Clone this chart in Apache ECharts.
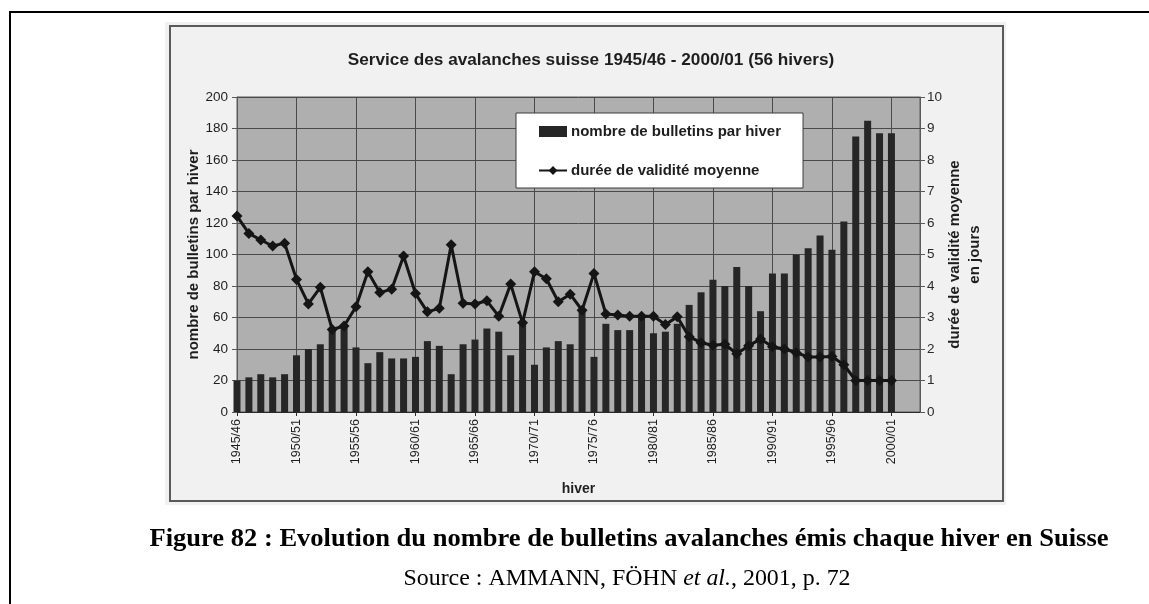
<!DOCTYPE html>
<html>
<head>
<meta charset="utf-8">
<script src="https://cdn.jsdelivr.net/npm/echarts@6/dist/echarts.min.js"></script>
<style>
  html, body { margin: 0; padding: 0; background: #ffffff; }
  #chart { width: 1149px; height: 604px; }
</style>
</head>
<body>
<div id="chart"></div>
<script>
// Winters 1945/46 to 2000/01
const winters = [
  '1945/46','1946/47','1947/48','1948/49','1949/50','1950/51','1951/52','1952/53','1953/54','1954/55',
  '1955/56','1956/57','1957/58','1958/59','1959/60','1960/61','1961/62','1962/63','1963/64','1964/65',
  '1965/66','1966/67','1967/68','1968/69','1969/70','1970/71','1971/72','1972/73','1973/74','1974/75',
  '1975/76','1976/77','1977/78','1978/79','1979/80','1980/81','1981/82','1982/83','1983/84','1984/85',
  '1985/86','1986/87','1987/88','1988/89','1989/90','1990/91','1991/92','1992/93','1993/94','1994/95',
  '1995/96','1996/97','1997/98','1998/99','1999/00','2000/01'
];

// Number of bulletins issued per winter (left axis)
const bulletins = [
  20, 22, 24, 22, 24, 36, 40, 43, 52, 55,
  41, 31, 38, 34, 34, 35, 45, 42, 24, 43,
  46, 53, 51, 36, 57, 30, 41, 45, 43, 65,
  35, 56, 52, 52, 60, 50, 51, 56, 68, 76,
  84, 80, 92, 80, 64, 88, 88, 100, 104, 112,
  103, 121, 175, 185, 177, 177
];

// Mean validity in days (right axis)
const validity = [
  6.22, 5.67, 5.46, 5.27, 5.36, 4.21, 3.43, 3.96, 2.62, 2.73,
  3.34, 4.45, 3.79, 3.90, 4.95, 3.76, 3.18, 3.29, 5.31, 3.45,
  3.43, 3.53, 3.04, 4.06, 2.83, 4.45, 4.23, 3.50, 3.74, 3.23,
  4.40, 3.11, 3.08, 3.04, 3.04, 3.04, 2.78, 3.02, 2.39, 2.20,
  2.12, 2.15, 1.85, 2.10, 2.32, 2.07, 2.00, 1.88, 1.75, 1.75,
  1.76, 1.50, 1.00, 1.00, 1.00, 1.00
];

// Tick labels
const leftTicks = [0, 20, 40, 60, 80, 100, 120, 140, 160, 180, 200];
const rightTicks = [0, 1, 2, 3, 4, 5, 6, 7, 8, 9, 10];
const labelledWinters = winters.map((w, i) => i).filter(i => i % 5 === 0);

const chart = echarts.init(document.getElementById('chart'), null, { renderer: 'canvas' });

const sans = '"Liberation Sans", Arial, sans-serif';
const serif = '"Liberation Serif", "Times New Roman", serif';
const ink = '#1e1e1e';

chart.setOption({
  animation: false,
  backgroundColor: '#ffffff',
  textStyle: { fontFamily: sans },
  title: {
    text: 'Service des avalanches suisse 1945/46 - 2000/01 (56 hivers)',
    left: 586, top: 47, textAlign: 'center',
    textStyle: { fontFamily: sans, fontWeight: 'bold', fontSize: 17.2, color: ink }
  },
  graphic: [
    { type: 'rect', z: -100, silent: true,
      shape: { x: 10, y: 12, width: 1300, height: 700 },
      style: { fill: '#ffffff', stroke: '#000000', lineWidth: 2 } },
    { type: 'rect', z: -99, silent: true,
      shape: { x: 165, y: 22, width: 841, height: 483 },
      style: { fill: '#f1f1f1' } },
    { type: 'rect', z: -98, silent: true,
      shape: { x: 170, y: 26, width: 833, height: 475 },
      style: { fill: 'none', stroke: '#5a5a5a', lineWidth: 2 } },
    { type: 'text', silent: true, x: 629, y: 539, scaleX: 1.02,
      style: { text: 'Figure 82 : Evolution du nombre de bulletins avalanches émis chaque hiver en Suisse',
        font: 'bold 26px ' + serif, fill: '#000000', align: 'center', verticalAlign: 'middle' } },
    { type: 'text', silent: true, x: 627, y: 579, scaleX: 1.04,
      style: { text: '{n|Source : AMMANN, FÖHN }{i|et al.}{n|, 2001, p. 72}',
        align: 'center', verticalAlign: 'middle',
        rich: {
          n: { fontFamily: serif, fontSize: 23, color: '#000000' },
          i: { fontFamily: serif, fontSize: 23, fontStyle: 'italic', color: '#000000' }
        } } }
  ],
  legend: {
    orient: 'vertical',
    left: 516, top: 113,
    backgroundColor: '#ffffff',
    borderColor: '#3a3a3a', borderWidth: 1,
    padding: [11, 22, 10, 22],
    itemGap: 24,
    itemWidth: 28, itemHeight: 11,
    textStyle: { fontFamily: sans, fontWeight: 'bold', fontSize: 15, color: ink, padding: [0, 0, 0, -1] },
    data: [
      { name: 'nombre de bulletins par hiver', icon: 'rect' },
      { name: 'durée de validité moyenne' }
    ]
  },
  grid: {
    left: 237, right: 229, top: 97, bottom: 192,
    show: true, backgroundColor: '#afafaf',
    borderColor: '#5a5a5a', borderWidth: 1
  },
  xAxis: {
    type: 'value',
    min: 0, max: 57.4, interval: 5,
    name: 'hiver', nameLocation: 'middle', nameGap: 70,
    nameTextStyle: { fontFamily: sans, fontWeight: 'bold', fontSize: 14, color: ink },
    axisLine: { show: true, lineStyle: { color: '#2a2a2a', width: 1 } },
    axisTick: { show: true, length: 4, customValues: labelledWinters, lineStyle: { color: '#2a2a2a' } },
    axisLabel: {
      customValues: labelledWinters,
      rotate: 90, margin: 7,
      fontFamily: sans, fontSize: 12.5, color: ink,
      formatter: v => winters[v] || ''
    },
    splitLine: { show: true, lineStyle: { color: '#4a4a4a', width: 1 } }
  },
  yAxis: [
    {
      type: 'value', min: 0, max: 200, interval: 20, position: 'left',
      name: 'nombre de bulletins par hiver', nameLocation: 'middle',
      nameGap: 36, nameMoveOverlap: false,
      nameTextStyle: { fontFamily: sans, fontWeight: 'bold', fontSize: 15, color: ink },
      axisLine: { show: true, lineStyle: { color: '#5a5a5a' } },
      axisTick: { show: true, length: 5, inside: false, lineStyle: { color: '#5a5a5a' } },
      axisLabel: { margin: 9, fontFamily: sans, fontSize: 13.5, color: ink,
        customValues: leftTicks },
      splitLine: { show: true, lineStyle: { color: '#4a4a4a', width: 1 } }
    },
    {
      type: 'value', min: 0, max: 10, interval: 1, position: 'right',
      name: 'durée de validité moyenne\nen jours', nameLocation: 'middle',
      nameGap: 25, nameMoveOverlap: false,
      nameTextStyle: { fontFamily: sans, fontWeight: 'bold', fontSize: 15, color: ink, lineHeight: 20 },
      axisLine: { show: true, lineStyle: { color: '#5a5a5a' } },
      axisTick: { show: true, length: 5, lineStyle: { color: '#5a5a5a' } },
      axisLabel: { margin: 7, fontFamily: sans, fontSize: 13.5, color: '#2a2a2a',
        customValues: rightTicks },
      splitLine: { show: false }
    }
  ],
  series: [
    {
      name: 'nombre de bulletins par hiver',
      type: 'bar',
      yAxisIndex: 0,
      barWidth: 7,
      itemStyle: { color: '#262626' },
      data: bulletins.map((v, i) => [i, v])
    },
    {
      name: 'durée de validité moyenne',
      type: 'line',
      yAxisIndex: 1,
      symbol: 'diamond', symbolSize: 11,
      lineStyle: { color: '#151515', width: 3 },
      itemStyle: { color: '#151515' },
      data: validity.map((v, i) => [i, v])
    }
  ]
});
</script>
</body>
</html>
